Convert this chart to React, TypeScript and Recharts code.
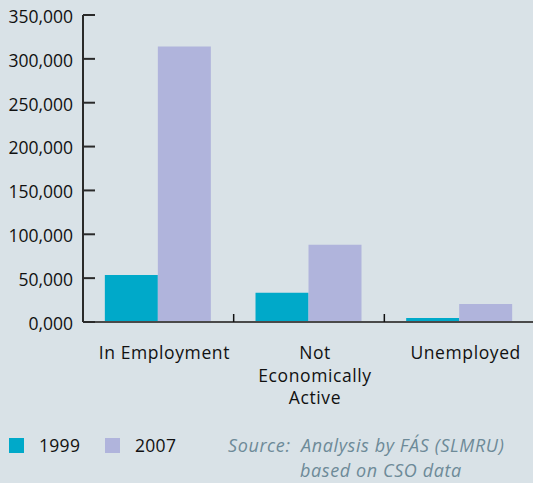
import React from "react";
import { Bar, BarChart, XAxis, YAxis } from "recharts";

const categories = ["In Employment", "Not Economically Active", "Unemployed"];
const values1999 = [53600, 33400, 4600];
const values2007 = [314000, 88000, 20500];
const yTickValues = [0, 50000, 100000, 150000, 200000, 250000, 300000, 350000];
const yTickLabels = ["0,000", "50,000", "100,000", "150,000", "200,000", "250,000", "300,000", "350,000"];
const seriesNames = ["1999", "2007"];
const seriesColors = ["#00a9c9", "#b0b4dc"];

const data = categories.map((c, i) => ({ name: c, y1999: values1999[i], y2007: values2007[i] }));

const FONT = "'Open Sans', 'Noto Sans', sans-serif";
const CHART_W = 540;
const M_RIGHT = 5;
const Y_W = 83;
const BAND = (CHART_W - M_RIGHT - Y_W) / categories.length;

function YTick({ x, y, payload }: any) {
  const axisX = x + 10;
  return (
    <g>
      <line x1={axisX} x2={axisX + 12} y1={y} y2={y} stroke="#2a2a2a" strokeWidth={2} />
      <text x={x} y={y} dy="0.45em" textAnchor="end" fontSize={17.5} fontFamily={FONT} fill="#111">
        {yTickLabels[yTickValues.indexOf(payload.value)] ?? payload.value}
      </text>
    </g>
  );
}

function XTick({ x, y, payload, index }: any) {
  const label: string = payload.value;
  const lines = label.length > 14 ? label.split(" ") : [label];
  return (
    <g>
      {index < categories.length - 1 && (
        <line x1={x + BAND / 2} x2={x + BAND / 2} y1={y - 8} y2={y} stroke="#111" strokeWidth={1.5} />
      )}
      <text textAnchor="middle" fontSize={17.5} letterSpacing={0.6} fontFamily={FONT} fill="#111">
        {lines.map((l, i) => (
          <tspan key={i} x={x + 6} y={y + 37 + i * 22.5}>
            {l}
          </tspan>
        ))}
      </text>
    </g>
  );
}

export default function App() {
  return (
    <div
      style={{
        position: "absolute",
        left: 0,
        top: 0,
        width: 533,
        height: 483,
        overflow: "hidden",
        background: "#d9e2e7",
        fontFamily: FONT,
      }}
    >
      <BarChart
        width={CHART_W}
        height={430}
        data={data}
        margin={{ top: 15, right: M_RIGHT, left: 0, bottom: 0 }}
        barCategoryGap="14.5%"
        barGap={0}
      >
        <XAxis
          dataKey="name"
          height={108}
          tickSize={0}
          tickMargin={0}
          tickLine={false}
          axisLine={{ stroke: "#4a4a4a", strokeWidth: 2 }}
          tick={<XTick />}
          interval={0}
        />
        <YAxis
          width={Y_W}
          domain={[0, 350000]}
          ticks={yTickValues}
          tickSize={0}
          tickMargin={10}
          tickLine={false}
          axisLine={{ stroke: "#2a2a2a", strokeWidth: 2 }}
          tick={<YTick />}
          interval={0}
        />
        <Bar dataKey="y1999" name={seriesNames[0]} fill={seriesColors[0]} isAnimationActive={false} />
        <Bar dataKey="y2007" name={seriesNames[1]} fill={seriesColors[1]} isAnimationActive={false} />
      </BarChart>
      {seriesNames.map((s, i) => (
        <div key={s} style={{ position: "absolute", left: 9 + i * 96, top: 438, display: "flex", alignItems: "center" }}>
          <div style={{ width: 15, height: 15, background: seriesColors[i] }} />
          <span style={{ marginLeft: 15, fontSize: 17.5, color: "#111", lineHeight: "15px", letterSpacing: 0.3 }}>{s}</span>
        </div>
      ))}
      <div
        style={{
          position: "absolute",
          left: 228,
          top: 433,
          fontSize: 18,
          fontStyle: "italic",
          color: "#6d8a98",
          lineHeight: "25px",
          letterSpacing: 0.6,
          whiteSpace: "pre",
        }}
      >
        {"Source:  Analysis by FÁS (SLMRU)\n"}
        <span style={{ paddingLeft: 72 }}>based on CSO data</span>
      </div>
    </div>
  );
}
